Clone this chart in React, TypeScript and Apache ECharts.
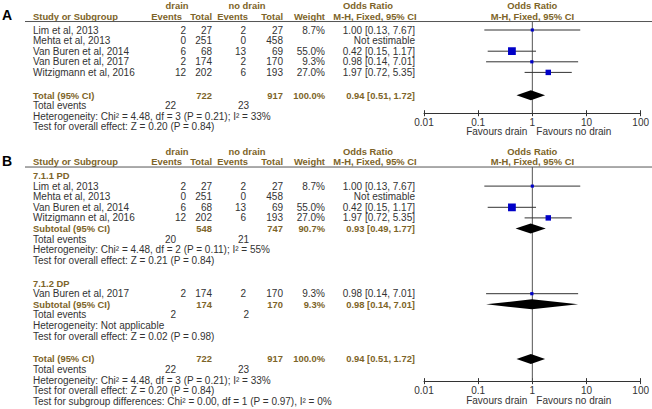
import React, { useEffect, useRef } from 'react';
import * as echarts from 'echarts';

// ---------- data ----------
const studyNames = ['Lim et al, 2013', 'Mehta et al, 2013', 'Van Buren et al, 2014', 'Van Buren et al, 2017', 'Witzigmann et al, 2016'];
const drainEvents = [2, 0, 6, 2, 12];
const drainTotals = [27, 251, 68, 174, 202];
const noDrainEvents = [2, 0, 13, 2, 6];
const noDrainTotals = [27, 458, 69, 170, 193];
const weights: (number | null)[] = [8.7, null, 55.0, 9.3, 27.0];
const oddsRatios: (number | null)[] = [1.0, null, 0.42, 0.98, 1.97];
const ciLower: (number | null)[] = [0.13, null, 0.15, 0.14, 0.72];
const ciUpper: (number | null)[] = [7.67, null, 1.17, 7.01, 5.35];

const subgroupNames = ['7.1.1 PD', '7.1.2 DP'];
const subgroupMembers = [[0, 1, 2, 4], [3]];
const subgroupDrainTotal = [548, 174];
const subgroupNoDrainTotal = [747, 170];
const subgroupWeight = [90.7, 9.3];
const subgroupOR = [0.93, 0.98];
const subgroupLower = [0.49, 0.14];
const subgroupUpper = [1.77, 7.01];
const subgroupDrainEvents = [20, 2];
const subgroupNoDrainEvents = [21, 2];
const subgroupHeterogeneity = ['Heterogeneity: Chi² = 4.48, df = 2 (P = 0.11); I² = 55%', 'Heterogeneity: Not applicable'];
const subgroupEffect = ['Test for overall effect: Z = 0.21 (P = 0.84)', 'Test for overall effect: Z = 0.02 (P = 0.98)'];

const totalDrain = 722;
const totalNoDrain = 917;
const totalWeight = 100.0;
const totalOR = 0.94;
const totalLower = 0.51;
const totalUpper = 1.72;
const totalDrainEvents = 22;
const totalNoDrainEvents = 23;
const totalHeterogeneity = 'Heterogeneity: Chi² = 4.48, df = 3 (P = 0.21); I² = 33%';
const totalEffect = 'Test for overall effect: Z = 0.20 (P = 0.84)';
const subgroupDifferences = 'Test for subgroup differences: Chi² = 0.00, df = 1 (P = 0.97), I² = 0%';

const tickValues = [0.01, 0.1, 1, 10, 100];
const tickLabels = ['0.01', '0.1', '1', '10', '100'];
const favoursLeft = 'Favours drain';
const favoursRight = 'Favours no drain';

// ---------- layout ----------
const W = 652;
const H = 409;
const PITCH = 10.6;
const FONT = '"Liberation Sans", Arial, sans-serif';
const BROWN = '#7d6428';
const TEXT = '#333333';
const BOLD_SIZE = 9.4;
const COL = { name: 33, e1: 186, t1: 212, e2: 246, t2: 283, w: 325, ci: 415, ev1: 176, ev2: 249, drainHdr: 177, noDrainHdr: 247, orHdr: 368, ciHdr: 375, e1Hdr: 182, e2Hdr: 248 };
const PLOT_LEFT = 424;
const PLOT_RIGHT = 9;

type Row = { r: number; kind: string; i?: number; g?: number; text?: string };

const panelA = { y0: 30, top: -0.8, axis: 7.85, fav: 9.62, label: 'A' };
const panelB = { y0: 175.5, top: -0.8, axis: 19.4, fav: 21.2, label: 'B' };

const rowsA: Row[] = [
  ...studyNames.map((_, i) => ({ r: i, kind: 'study', i })),
  { r: 6.15, kind: 'total' },
  { r: 7.15, kind: 'totalEvents' },
  { r: 8.15, kind: 'note', text: totalHeterogeneity },
  { r: 9.15, kind: 'note', text: totalEffect },
];

const rowsB: Row[] = (() => {
  const out: Row[] = [];
  let r = 0;
  subgroupNames.forEach((name, g) => {
    out.push({ r, kind: 'heading', text: name }); r += 1;
    subgroupMembers[g].forEach((i) => { out.push({ r, kind: 'study', i }); r += 1; });
    out.push({ r, kind: 'subtotal', g }); r += 1;
    out.push({ r, kind: 'subEvents', g }); r += 1;
    out.push({ r, kind: 'note', text: subgroupHeterogeneity[g] }); r += 1;
    out.push({ r, kind: 'note', text: subgroupEffect[g] }); r += 1;
    r += 1.15;
  });
  out.push({ r, kind: 'total' }); r += 1;
  out.push({ r, kind: 'totalEvents' }); r += 1;
  out.push({ r, kind: 'note', text: totalHeterogeneity }); r += 1;
  out.push({ r, kind: 'note', text: totalEffect }); r += 1;
  out.push({ r, kind: 'note', text: subgroupDifferences });
  return out;
})();

const fmtCI = (o: number, l: number, u: number) => `${o.toFixed(2)} [${l.toFixed(2)}, ${u.toFixed(2)}]`;

function txt(x: number, y: number, text: string, o: any = {}) {
  return {
    type: 'text', x, y, silent: true,
    style: {
      text, fill: o.color ?? TEXT, fontSize: o.size ?? (o.bold ? BOLD_SIZE : 10), fontFamily: FONT,
      fontWeight: o.bold ? 'bold' : 'normal', align: o.align ?? 'left', verticalAlign: 'middle',
    },
  };
}

function panelGraphics(p: any, rows: Row[]) {
  const y = (r: number) => p.y0 + r * PITCH;
  const g: any[] = [];
  const hb = { bold: true, color: BROWN };
  g.push(txt(2, y(-1.38), p.label, { bold: true, size: 14, color: '#000' }));
  g.push(txt(COL.drainHdr, y(-2.3), 'drain', { ...hb, align: 'center' }));
  g.push(txt(COL.noDrainHdr, y(-2.3), 'no drain', { ...hb, align: 'center' }));
  g.push(txt(COL.orHdr, y(-2.3), 'Odds Ratio', { ...hb, align: 'center' }));
  g.push(txt(COL.name, y(-1.3), 'Study or Subgroup', hb));
  g.push(txt(COL.e1Hdr, y(-1.3), 'Events', { ...hb, align: 'right' }));
  g.push(txt(COL.t1, y(-1.3), 'Total', { ...hb, align: 'right' }));
  g.push(txt(COL.e2Hdr, y(-1.3), 'Events', { ...hb, align: 'right' }));
  g.push(txt(COL.t2, y(-1.3), 'Total', { ...hb, align: 'right' }));
  g.push(txt(COL.w, y(-1.3), 'Weight', { ...hb, align: 'right' }));
  g.push(txt(COL.ciHdr, y(-1.3), 'M-H, Fixed, 95% CI', { ...hb, align: 'center' }));
  g.push({ type: 'line', silent: true, shape: { x1: 25, y1: y(-0.8), x2: W, y2: y(-0.8) }, style: { stroke: '#555', lineWidth: 1 } });

  rows.forEach((row) => {
    const yy = y(row.r);
    if (row.kind === 'study') {
      const i = row.i!;
      g.push(txt(COL.name, yy, studyNames[i]));
      g.push(txt(COL.e1, yy, String(drainEvents[i]), { align: 'right' }));
      g.push(txt(COL.t1, yy, String(drainTotals[i]), { align: 'right' }));
      g.push(txt(COL.e2, yy, String(noDrainEvents[i]), { align: 'right' }));
      g.push(txt(COL.t2, yy, String(noDrainTotals[i]), { align: 'right' }));
      if (weights[i] != null) g.push(txt(COL.w, yy, `${weights[i]!.toFixed(1)}%`, { align: 'right' }));
      const ci = oddsRatios[i] != null ? fmtCI(oddsRatios[i]!, ciLower[i]!, ciUpper[i]!) : 'Not estimable';
      g.push(txt(COL.ci, yy, ci, { align: 'right' }));
    } else if (row.kind === 'total' || row.kind === 'subtotal') {
      const isT = row.kind === 'total';
      const k = row.g ?? 0;
      const o = { bold: true, color: BROWN, align: 'right' };
      g.push(txt(COL.name, yy, isT ? 'Total (95% CI)' : 'Subtotal (95% CI)', { bold: true, color: BROWN }));
      g.push(txt(COL.t1, yy, String(isT ? totalDrain : subgroupDrainTotal[k]), o));
      g.push(txt(COL.t2, yy, String(isT ? totalNoDrain : subgroupNoDrainTotal[k]), o));
      g.push(txt(COL.w, yy, `${(isT ? totalWeight : subgroupWeight[k]).toFixed(1)}%`, o));
      g.push(txt(COL.ci, yy, isT ? fmtCI(totalOR, totalLower, totalUpper) : fmtCI(subgroupOR[k], subgroupLower[k], subgroupUpper[k]), o));
    } else if (row.kind === 'totalEvents' || row.kind === 'subEvents') {
      const isT = row.kind === 'totalEvents';
      const k = row.g ?? 0;
      g.push(txt(COL.name, yy, 'Total events'));
      g.push(txt(COL.ev1, yy, String(isT ? totalDrainEvents : subgroupDrainEvents[k]), { align: 'right' }));
      g.push(txt(COL.ev2, yy, String(isT ? totalNoDrainEvents : subgroupNoDrainEvents[k]), { align: 'right' }));
    } else if (row.kind === 'heading') {
      g.push(txt(COL.name, yy, row.text!, { bold: true, color: BROWN }));
    } else {
      g.push(txt(COL.name, yy, row.text!));
    }
  });
  return g;
}

function forestData(rows: Row[]) {
  const d: number[][] = [];
  rows.forEach((row) => {
    if (row.kind === 'study') {
      const i = row.i!;
      if (oddsRatios[i] != null) d.push([oddsRatios[i]!, ciLower[i]!, ciUpper[i]!, row.r, weights[i]!, 0]);
    } else if (row.kind === 'subtotal') {
      const k = row.g!;
      d.push([subgroupOR[k], subgroupLower[k], subgroupUpper[k], row.r, subgroupWeight[k], 1]);
    } else if (row.kind === 'total') {
      d.push([totalOR, totalLower, totalUpper, row.r, totalWeight, 1]);
    }
  });
  return d;
}

const tickFmt = (v: number) => {
  const k = tickValues.findIndex((t) => Math.abs(Math.log10(t) - Math.log10(v)) < 1e-6);
  return k >= 0 ? tickLabels[k] : '';
};

function buildOption() {
  const panels = [panelA, panelB];
  const rowSets = [rowsA, rowsB];
  const grid: any[] = [];
  const xAxis: any[] = [];
  const yAxis: any[] = [];
  const series: any[] = [];
  let graphics: any[] = [];

  panels.forEach((p, gi) => {
    const top = p.y0 + p.top * PITCH;
    const bottomY = p.y0 + p.axis * PITCH;
    grid.push({ left: PLOT_LEFT, right: PLOT_RIGHT, top, bottom: H - bottomY });
    xAxis.push({
      gridIndex: gi, type: 'log', logBase: 10, min: 0.01, max: 100, position: 'bottom',
      axisLine: { show: true, onZero: false, lineStyle: { color: '#333', width: 1 } },
      axisTick: { show: true, length: 3, lineStyle: { color: '#333' } },
      axisLabel: { show: true, fontSize: 10, fontFamily: FONT, color: TEXT, margin: 4, formatter: tickFmt, showMinLabel: true, showMaxLabel: true },
      splitLine: { show: false }, minorTick: { show: false },
    });
    xAxis.push({
      gridIndex: gi, type: 'log', logBase: 10, min: 0.01, max: 100, position: 'bottom',
      axisLine: { show: false, onZero: false },
      axisTick: { show: true, inside: true, length: 3, lineStyle: { color: '#333' } },
      axisLabel: { show: false }, splitLine: { show: false },
    });
    yAxis.push({ gridIndex: gi, type: 'value', inverse: true, min: p.top, max: p.axis, show: false });

    const xi = gi * 2;
    // reference line at OR = 1
    series.push({
      type: 'custom', xAxisIndex: xi, yAxisIndex: gi, silent: true, clip: false,
      data: [[1, p.top, p.axis]],
      renderItem: (params: any, api: any) => {
        const a = api.coord([api.value(0), api.value(1)]);
        const b = api.coord([api.value(0), api.value(2)]);
        return { type: 'line', shape: { x1: a[0], y1: a[1], x2: b[0], y2: b[1] }, style: { stroke: '#555', lineWidth: 1 } };
      },
    });
    // plot headers and favours labels, positioned through the scale
    const plotTexts = [
      { text: 'Odds Ratio', r: -2.3, dx: 0, align: 'center', bold: true },
      { text: 'M-H, Fixed, 95% CI', r: -1.3, dx: 0, align: 'center', bold: true },
      { text: favoursLeft, r: p.fav, dx: -5, align: 'right', bold: false },
      { text: favoursRight, r: p.fav, dx: 4, align: 'left', bold: false },
    ];
    series.push({
      type: 'custom', xAxisIndex: xi, yAxisIndex: gi, silent: true, clip: false,
      data: plotTexts.map((t) => [1, t.r]),
      renderItem: (params: any, api: any) => {
        const t = plotTexts[params.dataIndex];
        const c = api.coord([api.value(0), api.value(1)]);
        return {
          type: 'text', x: c[0] + t.dx, y: c[1],
          style: { text: t.text, fill: t.bold ? BROWN : TEXT, fontSize: t.bold ? BOLD_SIZE : 10, fontFamily: FONT, fontWeight: t.bold ? 'bold' : 'normal', align: t.align, verticalAlign: 'middle' },
        };
      },
    });
    // forest marks
    series.push({
      type: 'custom', xAxisIndex: xi, yAxisIndex: gi, silent: true, clip: false,
      encode: { x: [0, 1, 2], y: 3 },
      data: forestData(rowSets[gi]),
      renderItem: (params: any, api: any) => {
        const or = api.value(0), lo = api.value(1), hi = api.value(2), row = api.value(3), wt = api.value(4), kind = api.value(5);
        const c = api.coord([or, row]);
        const a = api.coord([lo, row]);
        const b = api.coord([hi, row]);
        if (kind === 1) {
          return { type: 'polygon', shape: { points: [[a[0], c[1]], [c[0], c[1] - 5], [b[0], c[1]], [c[0], c[1] + 5]] }, style: { fill: '#000' } };
        }
        const s = Math.max(2.5, Math.sqrt(wt) * 1.05);
        return {
          type: 'group',
          children: [
            { type: 'line', shape: { x1: a[0], y1: c[1], x2: b[0], y2: c[1] }, style: { stroke: '#333', lineWidth: 1 } },
            { type: 'rect', shape: { x: c[0] - s / 2, y: c[1] - s / 2, width: s, height: s }, style: { fill: '#0000c8' } },
          ],
        };
      },
    });
    graphics = graphics.concat(panelGraphics(p, rowSets[gi]));
  });

  return {
    animation: false,
    backgroundColor: '#ffffff',
    grid, xAxis, yAxis, series,
    graphic: { elements: graphics },
  };
}

export default function App() {
  const ref = useRef<HTMLDivElement>(null);
  useEffect(() => {
    const chart = echarts.init(ref.current!, null, { renderer: 'svg', width: W, height: H });
    chart.setOption(buildOption() as any);
    return () => chart.dispose();
  }, []);
  return <div ref={ref} style={{ position: 'absolute', left: 0, top: 0, width: W, height: H, background: '#fff' }} />;
}
